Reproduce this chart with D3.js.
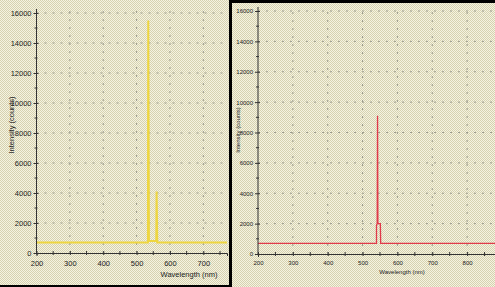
<!DOCTYPE html>
<html lang="en">
<head>
    <meta charset="UTF-8">
    <title>Spectra</title>
    <script src="https://cdn.jsdelivr.net/npm/d3@7/dist/d3.min.js"></script>
    <style>
        body { margin: 0; background: #fff; }
        svg { display: block; font-family: "Liberation Sans", Arial, sans-serif; }
    </style>
</head>
<body>
    <svg width="495" height="287"></svg>
    <script>
        // left spectrum (yellow)
        const wl1 = [200, 532, 534, 535, 537, 540, 558, 559, 560, 562, 771]
        const int1 = [700, 700, 700, 15500, 800, 800, 800, 800, 4100, 700, 700]
        // right spectrum (red)
        const wl2 = [200, 540, 540, 542, 543, 544, 551, 552, 880]
        const int2 = [700, 700, 1900, 2000, 9100, 2000, 2000, 700, 700]

        const yTicks = [0, 2000, 4000, 6000, 8000, 10000, 12000, 14000, 16000]
        const xTicks1 = [200, 300, 400, 500, 600, 700]
        const xTicks2 = [200, 300, 400, 500, 600, 700, 800]

        const svg = d3.select('svg')

        const defs = svg.append('defs')
        const pat = defs.append('pattern')
            .attr('id', 'chk').attr('width', 2).attr('height', 2)
            .attr('patternUnits', 'userSpaceOnUse')
        pat.append('rect').attr('width', 2).attr('height', 2).attr('fill', '#f5f3e1')
        pat.append('rect').attr('width', 1).attr('height', 1).attr('fill', '#d6d2b0')
        pat.append('rect').attr('x', 1).attr('y', 1).attr('width', 1).attr('height', 1).attr('fill', '#d6d2b0')

        svg.append('rect').attr('width', 495).attr('height', 287).attr('fill', 'url(#chk)')

        const drawPanel = (opt) => {
            const g = svg.append('g')
            const x = d3.scaleLinear().domain(opt.xDomain).range([opt.x0, opt.x1])
            const y = d3.scaleLinear().domain([0, 16000]).range([opt.y0, opt.y1])
            const fs = opt.fs

            // grid
            g.selectAll('.gx').data(opt.xTicks.slice(1)).join('line')
                .attr('x1', d => x(d)).attr('x2', d => x(d))
                .attr('y1', opt.y0).attr('y2', opt.y1 - 4)
                .attr('stroke', '#9a9a8c').attr('stroke-width', 1)
                .attr('stroke-dasharray', '2,6')
            g.selectAll('.gy').data(yTicks.slice(1)).join('line')
                .attr('y1', d => y(d)).attr('y2', d => y(d))
                .attr('x1', opt.x0).attr('x2', opt.x1)
                .attr('stroke', '#9a9a8c').attr('stroke-width', 1)
                .attr('stroke-dasharray', '2,6')

            // trace
            const pts = opt.wl.map((w, i) => [w, opt.int[i]])
            g.append('path')
                .datum(pts)
                .attr('fill', 'none')
                .attr('stroke', opt.color)
                .attr('stroke-width', opt.lw)
                .attr('d', d3.line().x(d => x(d[0])).y(d => y(d[1])))

            // axes
            const yAxis = d3.axisLeft(y).tickValues(yTicks).tickSize(3).tickFormat(d3.format('d'))
            const ya = g.append('g').attr('transform', `translate(${opt.x0},0)`).call(yAxis)
            ya.select('.domain').attr('stroke', '#333')
            ya.selectAll('text').attr('font-size', fs).attr('fill', '#222').attr('dx', '1')
            ya.selectAll('.tick line').attr('x2', -3).attr('x1', 2).attr('stroke', '#333')
            // minor y ticks
            g.selectAll('.my').data(d3.range(1000, 16000, 2000)).join('line')
                .attr('x1', opt.x0 - 2).attr('x2', opt.x0 + 1)
                .attr('y1', d => y(d)).attr('y2', d => y(d)).attr('stroke', '#333')

            const xAxis = d3.axisBottom(x).tickValues(opt.xTicks).tickSize(3)
            const xa = g.append('g').attr('transform', `translate(0,${opt.y0})`).call(xAxis)
            xa.select('.domain').attr('stroke', '#333')
            xa.selectAll('.tick line').attr('y1', -2).attr('y2', 2).attr('stroke', '#333')
            xa.selectAll('text').attr('font-size', fs).attr('fill', '#222').attr('dy', '0.9em')
            g.selectAll('.mx').data(d3.range(250, opt.xDomain[1], 100)).join('line')
                .attr('x1', d => x(d)).attr('x2', d => x(d))
                .attr('y1', opt.y0 - 2).attr('y2', opt.y0 + 2).attr('stroke', '#333')
            ya.select('.domain').attr('d', `M-0,${opt.y0}V${opt.y1 - 4}`)

            g.append('text')
                .attr('transform', `translate(${opt.ylx},${opt.yly}) rotate(-90)`)
                .attr('text-anchor', 'middle').attr('font-size', fs).attr('fill', '#222')
                .text('Intensity (counts)')
            g.append('text')
                .attr('x', opt.xlx).attr('y', opt.xly)
                .attr('text-anchor', 'middle').attr('font-size', fs).attr('fill', '#222')
                .text('Wavelength (nm)')
        }

        drawPanel({
            xDomain: [200, 771], x0: 36.5, x1: 227, y0: 253, y1: 13,
            xTicks: xTicks1, wl: wl1, int: int1, color: '#eed640', lw: 2,
            fs: 7.5, ylx: 14, yly: 125, xlx: 189, xly: 277
        })
        drawPanel({
            xDomain: [200, 880], x0: 258, x1: 495, y0: 254, y1: 11,
            xTicks: xTicks2, wl: wl2, int: int2, color: '#e03a4a', lw: 1.3,
            fs: 6, ylx: 240, yly: 130, xlx: 402, xly: 274
        })

        // panel frames
        svg.append('rect').attr('x', 229).attr('y', 0).attr('width', 3).attr('height', 287).attr('fill', '#000')
        svg.append('rect').attr('x', 0).attr('y', 285).attr('width', 232).attr('height', 2).attr('fill', '#000')
        svg.append('rect').attr('x', 232).attr('y', 0).attr('width', 263).attr('height', 3).attr('fill', '#000')
    </script>
</body>
</html>
